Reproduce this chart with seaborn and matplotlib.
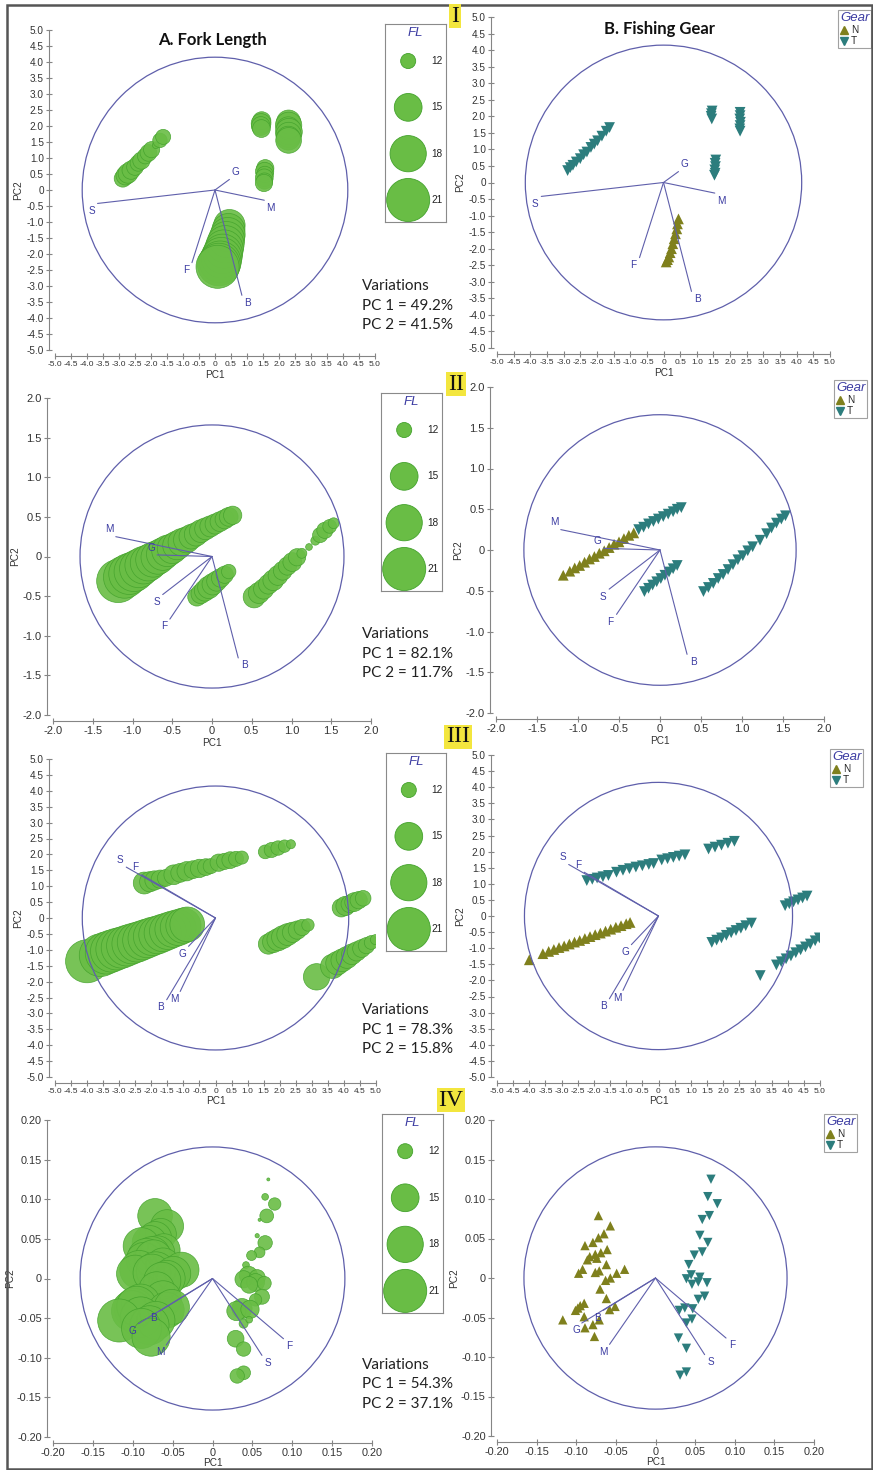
import matplotlib
matplotlib.use("Agg")
import matplotlib.pyplot as plt
from matplotlib.patches import Circle, Rectangle
from matplotlib.lines import Line2D
import numpy as np
import pandas as pd
import seaborn as sns

W, H = 873, 1470

GREEN = '#69bd45'
GREEN_EDGE = '#43a22c'
OLIVE = '#7f801d'
TEAL = '#2c7d7d'
NAVY = '#5f5fab'
NAVY_TXT = '#3c3ca2'
AX_GREY = '#858585'

VARS = ['G', 'S', 'M', 'F', 'B']
FL_LEGEND = [12, 15, 18, 21]
PC_VAR = [(49.2, 41.5), (82.1, 11.7), (78.3, 15.8), (54.3, 37.1)]
ROMAN = ['I', 'II', 'III', 'IV']

# ---------------- I ----------------
I_N_PC1 = [0.45, 0.42, 0.40, 0.36, 0.32, 0.28, 0.24, 0.20, 0.16, 0.12, 0.08]
I_N_PC2 = [-1.10, -1.25, -1.40, -1.55, -1.70, -1.85, -2.00, -2.12, -2.25, -2.33, -2.40]
I_N_FL = [16.2, 16.8, 17.4, 18.0, 18.6, 19.0, 19.5, 20.0, 20.5, 20.8, 21.0]
I_T_PC1 = [-2.88, -2.80, -2.72, -2.62, -2.50, -2.40, -2.30, -2.18, -2.08, -1.98, -1.85, -1.72, -1.62,
           1.46, 1.44, 1.43, 1.45,
           2.30, 2.30, 2.29, 2.31, 2.30, 2.29, 2.30,
           1.57, 1.55, 1.56, 1.54, 1.55, 1.53]
I_T_PC2 = [0.36, 0.45, 0.52, 0.62, 0.72, 0.84, 0.92, 1.06, 1.16, 1.26, 1.40, 1.55, 1.66,
           2.16, 2.08, 2.00, 1.92,
           2.12, 2.02, 1.92, 1.82, 1.72, 1.62, 1.55,
           0.68, 0.58, 0.48, 0.38, 0.28, 0.22]
I_T_FL = [12.4, 12.7, 12.9, 12.6, 12.3, 12.2, 12.4, 12.1, 12.3, 12.2, 11.0, 11.9, 12.0,
          12.6, 12.9, 12.7, 12.5,
          14.0, 14.6, 13.8, 14.7, 14.3, 13.9, 14.4,
          12.4, 12.6, 12.3, 12.5, 12.2, 12.4]
I_LOAD_PC1 = [0.45, -3.67, 1.54, -0.72, 0.84]
I_LOAD_PC2 = [0.33, -0.42, -0.32, -2.27, -3.29]

# ---------------- II ----------------
II_N_PC1 = [-1.18, -1.10, -1.04, -0.98, -0.92, -0.86, -0.80, -0.74, -0.68, -0.62, -0.56, -0.50, -0.44, -0.38, -0.32]
II_N_PC2 = [-0.31, -0.26, -0.22, -0.19, -0.15, -0.11, -0.08, -0.04, -0.01, 0.03, 0.07, 0.10, 0.14, 0.18, 0.21]
II_N_FL = [21.3, 20.6, 20.1, 19.6, 19.0, 18.5, 18.0, 17.5, 17.1, 16.6, 16.2, 15.7, 15.3, 14.9, 14.5]
II_T_PC1 = [-0.26, -0.20, -0.14, -0.08, -0.02, 0.04, 0.10, 0.16, 0.21, 0.26,
            -0.19, -0.14, -0.09, -0.04, 0.01, 0.06, 0.11, 0.16, 0.21,
            0.53, 0.59, 0.65, 0.71, 0.77, 0.83, 0.89, 0.95, 1.01, 1.07, 1.13, 1.22, 1.30, 1.36, 1.42, 1.48, 1.53]
II_T_PC2 = [0.25, 0.28, 0.32, 0.35, 0.38, 0.41, 0.44, 0.47, 0.50, 0.52,
            -0.51, -0.47, -0.43, -0.39, -0.35, -0.31, -0.27, -0.23, -0.19,
            -0.51, -0.46, -0.41, -0.35, -0.30, -0.24, -0.18, -0.12, -0.07, -0.01, 0.04, 0.12, 0.20, 0.27, 0.33, 0.38, 0.42]
II_T_FL = [14.1, 13.8, 13.6, 13.4, 13.2, 13.0, 12.9, 12.8, 12.7, 12.6,
           12.6, 12.9, 13.2, 13.5, 13.3, 13.0, 12.7, 12.4, 11.9,
           13.4, 13.2, 13.0, 12.9, 13.1, 12.9, 12.7, 12.6, 12.7, 12.4, 11.3, 11.0, 11.2, 12.0, 12.2, 11.8, 11.4]
II_LOAD_PC1 = [-0.69, -0.62, -1.21, -0.53, 0.33]
II_LOAD_PC2 = [0.02, -0.48, 0.25, -0.79, -1.28]

# ---------------- III ----------------
III_N_PC1 = [-4.00, -3.58, -3.40, -3.24, -3.08, -2.92, -2.76, -2.60, -2.44, -2.28, -2.12, -1.96, -1.80,
             -1.64, -1.48, -1.32, -1.16, -1.00, -0.88]
III_N_PC2 = [-1.36, -1.17, -1.10, -1.04, -0.98, -0.93, -0.87, -0.81, -0.76, -0.70, -0.64, -0.58, -0.53,
             -0.47, -0.41, -0.35, -0.30, -0.24, -0.20]
III_N_FL = [21.0, 20.8, 20.6, 20.5, 20.3, 20.1, 19.9, 19.7, 19.5, 19.3, 19.1, 18.9, 18.7,
            18.5, 18.3, 18.1, 17.9, 17.6, 17.4]
III_T_PC1 = [-2.22, -2.05, -1.90, -1.72, -1.55, -1.30, -1.10, -0.90, -0.70, -0.50, -0.30, -0.15,
             0.10, 0.28, 0.46, 0.64, 0.82, 1.55, 1.75, 1.95, 2.15, 2.35,
             1.65, 1.80, 1.95, 2.10, 2.25, 2.40, 2.55, 2.70, 2.88,
             3.92, 4.05, 4.18, 4.32, 4.46, 4.60,
             3.15, 3.65, 3.80, 3.95, 4.10, 4.25, 4.40, 4.55, 4.70, 4.85, 4.98]
III_T_PC2 = [1.10, 1.14, 1.18, 1.22, 1.26, 1.36, 1.42, 1.47, 1.52, 1.56, 1.60, 1.63,
             1.74, 1.78, 1.82, 1.86, 1.90, 2.08, 2.14, 2.20, 2.26, 2.32,
             -0.82, -0.75, -0.68, -0.60, -0.52, -0.45, -0.38, -0.30, -0.22,
             0.32, 0.38, 0.44, 0.50, 0.56, 0.62,
             -1.85, -1.52, -1.42, -1.33, -1.24, -1.14, -1.05, -0.96, -0.87, -0.77, -0.68]
III_T_FL = [13.4, 13.0, 12.8, 12.6, 12.3, 12.9, 12.7, 12.8, 12.5, 12.6, 12.3, 12.0,
            12.4, 12.2, 12.3, 12.0, 11.7, 11.8, 12.0, 11.9, 11.6, 11.2,
            13.0, 13.3, 13.5, 13.6, 13.4, 13.0, 12.6, 12.2, 11.6,
            12.6, 12.8, 12.4, 12.7, 12.4, 12.1,
            14.6, 14.0, 13.8, 13.6, 13.4, 13.1, 12.8, 12.5, 12.2, 11.8, 11.3]
III_LOAD_PC1 = [-0.84, -2.78, -1.10, -2.30, -1.52]
III_LOAD_PC2 = [-0.89, 1.60, -2.31, 1.36, -2.57]

# ---------------- IV ----------------
IV_N_PC1 = [-0.072, -0.057, -0.065, -0.072, -0.079, -0.089, -0.061, -0.069, -0.076, -0.083, -0.086, -0.074,
            -0.092, -0.097, -0.062, -0.071, -0.076, -0.039, -0.049, -0.057, -0.063, -0.070, -0.062, -0.090,
            -0.098, -0.101, -0.095, -0.058, -0.051, -0.090, -0.117, -0.071, -0.079, -0.089, -0.077]
IV_N_PC2 = [0.079, 0.066, 0.056, 0.051, 0.045, 0.041, 0.036, 0.032, 0.030, 0.027, 0.023, 0.025,
            0.011, 0.006, 0.017, 0.009, 0.007, 0.011, 0.006, 0.000, -0.003, -0.014, -0.026, -0.032,
            -0.038, -0.041, -0.035, -0.040, -0.036, -0.049, -0.053, -0.053, -0.059, -0.063, -0.074]
IV_N_FL = [17.4, 16.8, 16.2, 16.8, 17.4, 18.2, 16.6, 17.4, 18.0, 18.4, 17.8, 18.6,
           19.0, 18.4, 17.2, 19.2, 18.6, 17.6, 17.4, 18.0, 18.4, 17.8, 18.2, 19.4,
           19.8, 20.0, 19.6, 17.9, 17.6, 20.0, 21.0, 18.8, 19.2, 19.6, 18.8]
IV_T_PC1 = [0.070, 0.066, 0.078, 0.068, 0.059, 0.056, 0.066, 0.059, 0.049, 0.042, 0.045, 0.039, 0.056, 0.054,
            0.046, 0.065, 0.062, 0.054, 0.037, 0.030, 0.047, 0.039, 0.046, 0.029, 0.039, 0.039, 0.031]
IV_T_PC2 = [0.125, 0.103, 0.094, 0.079, 0.074, 0.054, 0.045, 0.033, 0.029, 0.017, 0.004, -0.001, 0.001, -0.005,
            -0.008, -0.006, -0.023, -0.027, -0.038, -0.041, -0.039, -0.057, -0.052, -0.076, -0.089, -0.119, -0.123]
IV_T_FL = [10.8, 11.0, 11.6, 11.8, 10.8, 10.85, 11.9, 11.4, 11.3, 11.0, 12.6, 12.4, 12.2, 12.5,
           12.3, 11.8, 12.0, 11.6, 13.0, 12.8, 12.6, 11.2, 11.0, 12.3, 11.9, 11.8, 11.9]
IV_LOAD_PC1 = [-0.093, 0.062, -0.058, 0.089, -0.066]
IV_LOAD_PC2 = [-0.057, -0.097, -0.084, -0.076, -0.041]


def make_df(n1, n2, nfl, t1, t2, tfl):
    n = pd.DataFrame({'PC1': n1, 'PC2': n2, 'FL': nfl, 'Gear': 'N'})
    t = pd.DataFrame({'PC1': t1, 'PC2': t2, 'FL': tfl, 'Gear': 'T'})
    return pd.concat([n, t], ignore_index=True)


rows = [
    dict(df=make_df(I_N_PC1, I_N_PC2, I_N_FL, I_T_PC1, I_T_PC2, I_T_FL),
         lx=I_LOAD_PC1, ly=I_LOAD_PC2, R=4.15, lim=5.0, step=0.5, nd=1, xfs=6.0, yfs=7.2, ms=60, xpad=1, ypad=2.5,
         left=(55, 30, 375, 350), right=(497, 17, 830, 348), fl=(385, 24, 446, 222), gear=(838, 10),
         var_y=286, roman=(455, 16)),
    dict(df=make_df(II_N_PC1, II_N_PC2, II_N_FL, II_T_PC1, II_T_PC2, II_T_FL),
         lx=II_LOAD_PC1, ly=II_LOAD_PC2, R=1.66, lim=2.0, step=0.5, nd=1, xfs=8, yfs=8, ms=60, xpad=1, ypad=2,
         left=(53, 398, 371, 715), right=(496, 387, 824, 713), fl=(381, 393, 442, 591), gear=(834, 380),
         var_y=634, roman=(456, 384)),
    dict(df=make_df(III_N_PC1, III_N_PC2, III_N_FL, III_T_PC1, III_T_PC2, III_T_FL),
         lx=III_LOAD_PC1, ly=III_LOAD_PC2, R=4.15, lim=5.0, step=0.5, nd=1, xfs=6.0, yfs=7.2, ms=60, xpad=1, ypad=2.5,
         left=(55, 759, 376, 1077), right=(497, 755, 820, 1077), fl=(386, 753, 446, 951), gear=(830, 749),
         var_y=1010, roman=(458, 737)),
    dict(df=make_df(IV_N_PC1, IV_N_PC2, IV_N_FL, IV_T_PC1, IV_T_PC2, IV_T_FL),
         lx=IV_LOAD_PC1, ly=IV_LOAD_PC2, R=0.166, lim=0.20, step=0.05, nd=2, xfs=7.8, yfs=7.8, ms=45, xpad=0, ypad=1.5,
         left=(53, 1120, 372, 1437), right=(497, 1120, 814, 1436), fl=(382, 1114, 443, 1313), gear=(824, 1114),
         var_y=1365, roman=(451, 1100)),
]

sns.set_theme(style="ticks")
plt.rcParams['font.family'] = ['Liberation Sans', 'DejaVu Sans']
plt.rcParams['axes.unicode_minus'] = False

fig = plt.figure(figsize=(W / 100, H / 100), dpi=100)
SIZES = (0, 961)
SIZE_NORM = (10.75, 21)
PALETTE = {'N': OLIVE, 'T': TEAL}
MARKERS = {'N': '^', 'T': 'v'}


def px_axes(box):
    l, t, r, b = box
    return fig.add_axes([l / W, 1 - b / H, (r - l) / W, (b - t) / H])


def fmt(v, nd):
    return '0' if abs(v) < 1e-9 else f'{v:.{nd}f}'


def style_axes(ax, row):
    # despine first: moving the spines rebuilds the tick objects
    sns.despine(ax=ax, offset=4)
    lim, step = row['lim'], row['step']
    ticks = np.round(np.arange(-lim, lim + step / 2, step), 4)
    labels = [fmt(v, row['nd']) for v in ticks]
    ax.set_xlim(-lim, lim)
    ax.set_ylim(-lim, lim)
    ax.set_xticks(ticks, labels)
    ax.set_yticks(ticks, labels)
    for s in ('left', 'bottom'):
        ax.spines[s].set_color(AX_GREY)
        ax.spines[s].set_linewidth(0.8)
    ax.tick_params(direction='inout', length=5, width=0.8, color=AX_GREY, labelcolor='#333333', pad=1.5)
    ax.tick_params(axis='x', labelsize=row['xfs'])
    ax.tick_params(axis='y', labelsize=row['yfs'])
    ax.set_xlabel('PC1', fontsize=7.2, labelpad=row['xpad'], color='#333333')
    ax.set_ylabel('PC2', fontsize=7.2, labelpad=row['ypad'], color='#333333')
    ax.set_facecolor('none')


def biplot_overlay(ax, row):
    R = row['R']
    ax.add_patch(Circle((0, 0), R, fill=False, ec=NAVY, lw=0.9, zorder=3))
    for name, x, y in zip(VARS, row['lx'], row['ly']):
        ax.plot([0, x], [0, y], color=NAVY, lw=0.8, zorder=4)
        ax.text(x + np.sign(x) * 0.045 * R, y + np.sign(y) * 0.055 * R, name,
                ha='center', va='center', fontsize=7.2, color=NAVY_TXT, zorder=5)


for i, row in enumerate(rows):
    df = row['df']

    # left: bubble size = fork length
    axl = px_axes(row['left'])
    sns.scatterplot(data=df, x='PC1', y='PC2', size='FL', sizes=SIZES, size_norm=SIZE_NORM,
                    color=GREEN, edgecolor=GREEN_EDGE, linewidth=0.5, alpha=0.9, legend=False, ax=axl)
    biplot_overlay(axl, row)
    style_axes(axl, row)

    # right: marker = fishing gear
    axr = px_axes(row['right'])
    sns.scatterplot(data=df, x='PC1', y='PC2', hue='Gear', style='Gear', palette=PALETTE,
                    markers=MARKERS, s=row['ms'], linewidth=0, edgecolor='none', legend=False, ax=axr)
    biplot_overlay(axr, row)
    style_axes(axr, row)

    # FL size legend box
    lax = px_axes(row['fl'])
    ypos = np.linspace(0.813, 0.111, len(FL_LEGEND))
    sns.scatterplot(x=np.full(len(FL_LEGEND), 0.38), y=ypos, size=FL_LEGEND, sizes=SIZES,
                    size_norm=SIZE_NORM, color=GREEN, edgecolor=GREEN_EDGE, linewidth=0.6,
                    legend=False, ax=lax)
    for y, v in zip(ypos, FL_LEGEND):
        lax.text(0.85, y, str(v), ha='center', va='center', fontsize=7.2, color='#222222')
    lax.text(0.5, 0.955, 'FL', ha='center', va='center', fontsize=9.5, style='italic', color=NAVY_TXT)
    lax.set_xlim(0, 1)
    lax.set_ylim(0, 1)
    lax.set_xticks([])
    lax.set_yticks([])
    lax.set_xlabel('')
    lax.set_ylabel('')
    for s in lax.spines.values():
        s.set_visible(True)
        s.set_color('#8a8a8a')
        s.set_linewidth(0.8)

    # Gear legend
    handles = [Line2D([0], [0], marker=MARKERS[g], ls='', color=PALETTE[g], markersize=6) for g in ['N', 'T']]
    gx, gy = row['gear']
    leg = axr.legend(handles, ['N', 'T'], loc='upper left', bbox_to_anchor=(gx / W, 1 - gy / H),
                     bbox_transform=fig.transFigure, title='Gear', fontsize=7.2, title_fontsize=9.5,
                     frameon=True, fancybox=False, edgecolor='#8a8a8a', borderpad=0.2,
                     handlelength=0.8, handletextpad=0.3, labelspacing=0.1, borderaxespad=0,
                     alignment='left')
    leg.get_frame().set_linewidth(0.8)
    leg.get_title().set_color(NAVY_TXT)
    leg.get_title().set_style('italic')

    # variation text
    vy = row['var_y']
    pc1, pc2 = PC_VAR[i]
    for k, line in enumerate(['Variations', f'PC 1 = {pc1}%', f'PC 2 = {pc2}%']):
        fig.text(362 / W, 1 - (vy + k * 19.5) / H, line, ha='left', va='center',
                 fontsize=11, family='Lato', color='#222222')

    # roman numeral tag
    rx, ry = row['roman']
    fig.text(rx / W, 1 - ry / H, ROMAN[i], ha='center', va='center', fontsize=17,
             family='Liberation Serif', color='#111111',
             bbox=dict(boxstyle='square,pad=0.08', fc='#f3e63e', ec='none'))

fig.text(212 / W, 1 - 40 / H, 'A. Fork Length', ha='center', va='center', fontsize=12,
         fontweight='bold', family='Lato', color='#111111')
fig.text(660 / W, 1 - 29 / H, 'B. Fishing Gear', ha='center', va='center', fontsize=12,
         fontweight='bold', family='Lato', color='#111111')

fig.add_artist(Rectangle((7 / W, 1 - 1469 / H), (872 - 7) / W, (1469 - 5) / H,
                         transform=fig.transFigure, fill=False, ec='#555555', lw=1.8))

fig.savefig('out.png', dpi=100)
